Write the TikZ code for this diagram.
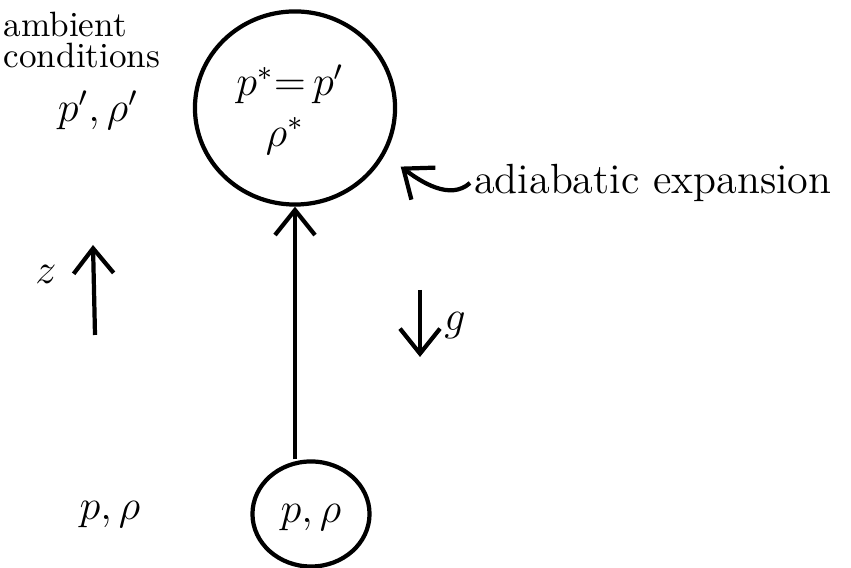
\documentclass[tikz,border=0pt]{standalone}
\usetikzlibrary{positioning,arrows.meta,calc,shapes.geometric}

\begin{document}
\begin{tikzpicture}[
  x=0.01cm, y=-0.01cm,
  font=\large,
  parcel/.style={ellipse, draw=black, line width=1.2pt, inner sep=0pt},
  label/.style={align=center, inner sep=1pt},
  arr/.style={-{Straight Barb[length=2.5mm, width=4mm]}, line width=1.2pt}
]
\useasboundingbox (0,0) rectangle (851,568);

% ---------- ambient side ----------
\node[label, font=\normalsize, align=left] (ambient) at (82,40) {ambient\\[-3pt]conditions};
\node[label] (ambstate) at (98,110) {$p',\rho'$};
\node[label] (lowstate) at (110,515) {$p,\rho$};

% height axis
\coordinate (zfoot) at (95,335);
\coordinate (zhead) at (93,245);
\draw[arr] (zfoot) -- (zhead);
\node[label] (zlab) at (46,274) {$z$};

% ---------- parcels ----------
\node[parcel, minimum width=2cm, minimum height=1.93cm] (top) at (295,108) {};
\node[label] (toppress) at ($(top)+(-5,-24)$) {$p^*{=}\,p'$};
\node[label] (toprho)   at ($(top)+(-10,28)$) {$\rho^*$};

\node[parcel, minimum width=1.17cm, minimum height=1.05cm] (bottom) at (311,514) {};
\node[label] (botstate) at ($(bottom)+(0,4)$) {$p,\rho$};

% parcel rises from bottom to top
\draw[arr] (top.south |- bottom.north) -- (top.south);

% ---------- gravity ----------
\coordinate (gtail) at (420,290);
\coordinate (ghead) at (420,357);
\draw[arr] (gtail) -- (ghead);
\node[label] (glab) at (455,326) {$g$};

% ---------- expansion note ----------
\node[label, anchor=west] (adlab) at (470,183) {adiabatic expansion};
\coordinate (adtip) at ($(top.330)+(18,8)$);
\draw[arr] (adlab.west) .. controls ($(adlab.west)+(-20,18)$) and ($(adtip)+(20,15)$) .. (adtip);

\end{tikzpicture}
\end{document}
